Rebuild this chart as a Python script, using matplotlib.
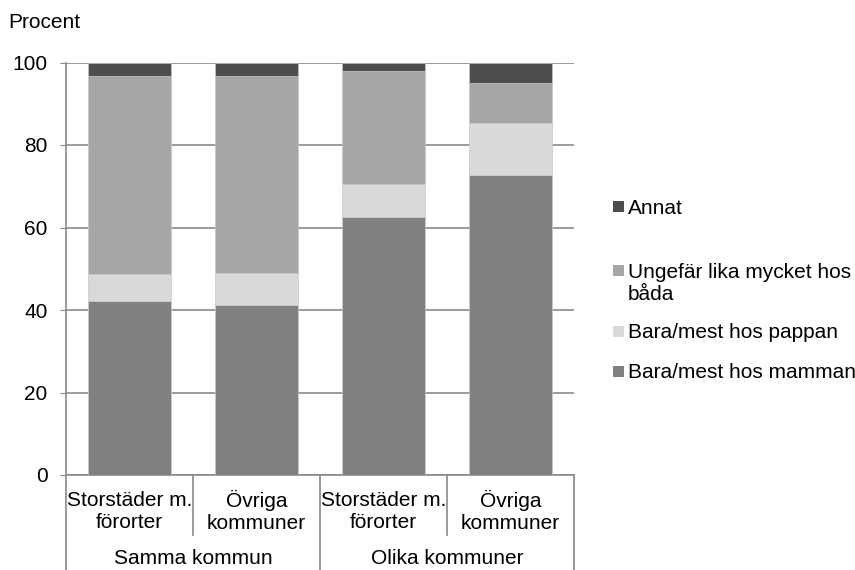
import numpy as np
import matplotlib.pyplot as plt
from matplotlib.patches import Rectangle

plt.rcParams['font.family'] = ['Liberation Sans', 'DejaVu Sans']

# -------------------- DATA --------------------
kategorier = ["Storstäder m.\nförorter", "Övriga\nkommuner", "Storstäder m.\nförorter", "Övriga\nkommuner"]
grupper = ["Samma kommun", "Olika kommuner"]
mamman = [42.1, 41.3, 62.5, 72.7]
pappan = [6.7, 7.7, 8.1, 12.7]
lika = [47.9, 47.7, 27.3, 9.6]
annat = [3.3, 3.3, 2.1, 5.0]

serier = [
    ("Bara/mest hos mamman", mamman, "#808080"),
    ("Bara/mest hos pappan", pappan, "#d9d9d9"),
    ("Ungefär lika mycket hos\nbåda", lika, "#a6a6a6"),
    ("Annat", annat, "#4d4d4d"),
]

GRID = "#8a8a8a"
FS = 15
RAD = 23  # px mellan textrader

# -------------------- FIGURE --------------------
fig = plt.figure(figsize=(8.55, 5.7), dpi=100)
ax = fig.add_axes([66 / 855, 1 - 475 / 570, 508 / 855, 412.5 / 570])

x = np.arange(len(kategorier))
botten = np.zeros(len(kategorier))
for namn, varden, farg in serier:
    ax.bar(x, varden, bottom=botten, width=0.66, color=farg, edgecolor="#c8c8c8",
           linewidth=0.5, zorder=3)
    botten += np.array(varden)

ax.set_xlim(-0.5, len(kategorier) - 0.5)
ax.set_ylim(0, 100)
ax.set_yticks(range(0, 101, 20))
ax.tick_params(axis='y', labelsize=FS, length=4.3, color=GRID, pad=9)
ax.tick_params(axis='x', bottom=False, labelbottom=False)
ax.yaxis.grid(True, color=GRID, linewidth=1.2, zorder=0)
for s in ["top", "right"]:
    ax.spines[s].set_visible(False)
for s in ["left", "bottom"]:
    ax.spines[s].set_color(GRID)
    ax.spines[s].set_linewidth(1.2)

fig.text(8 / 855, 1 - 22 / 570, "Procent", fontsize=FS, va="center", ha="left")

# two-level category axis
tr = ax.get_xaxis_transform()
for i, lab in enumerate(kategorier):
    ax.text(i, -0.0885, lab, transform=tr, ha="center", va="center", fontsize=FS,
            linespacing=1.2)
for i, g in enumerate(grupper):
    ax.text(2 * i + 0.5, -0.2036, g, transform=tr, ha="center", va="center", fontsize=FS)
for xs in [-0.5, 0.5, 1.5, 2.5, 3.5]:
    ned = -0.23 if xs in (-0.5, 1.5, 3.5) else -0.145
    ax.plot([xs, xs], [0, ned], transform=tr, color=GRID, linewidth=1.2, clip_on=False)

# legend (Annat on top)
leg_y = {"Annat": 207, "Ungefär lika mycket hos\nbåda": 270,
         "Bara/mest hos pappan": 331, "Bara/mest hos mamman": 371}
for namn, varden, farg in serier:
    y = leg_y[namn]
    fig.patches.append(Rectangle((613 / 855, 1 - (y + 5.5) / 570), 11 / 855, 11 / 570,
                                 transform=fig.transFigure, facecolor=farg,
                                 edgecolor="none"))
    extra = namn.count("\n") * RAD
    fig.text(628 / 855, 1 - (y + 7.5 + extra) / 570, namn, fontsize=FS, va="baseline",
             ha="left", linespacing=1.2)

fig.savefig("out.png", dpi=100)
